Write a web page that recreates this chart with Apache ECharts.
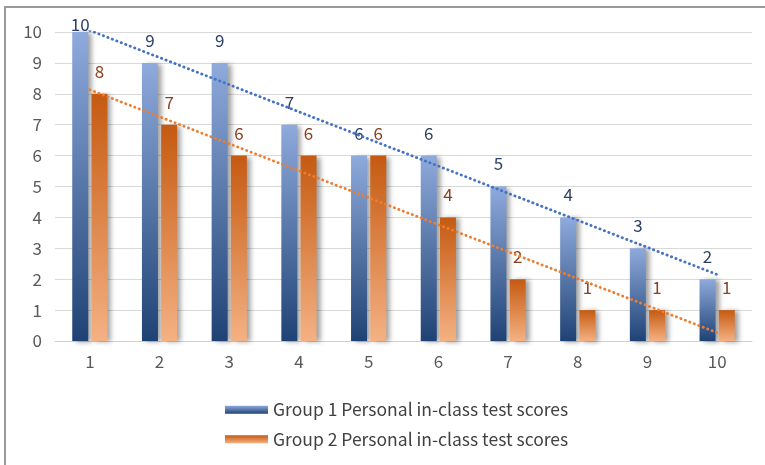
<!DOCTYPE html>
<html>
<head>
<meta charset="utf-8">
<script src="https://cdn.jsdelivr.net/npm/echarts@6/dist/echarts.min.js"></script>
<style>
html,body{margin:0;padding:0;background:#fff;}
#chart{width:765px;height:465px;}
</style>
</head>
<body>
<div id="chart"></div>
<script>
const categories = ['1','2','3','4','5','6','7','8','9','10'];
const group1 = [10, 9, 9, 7, 6, 6, 5, 4, 3, 2];
const group2 = [8, 7, 6, 6, 6, 4, 2, 1, 1, 1];
// trendline end values (at category 1 and category 10)
const trend1 = [10.05, null, null, null, null, null, null, null, null, 2.15];
const trend2 = [8.13, null, null, null, null, null, null, null, null, 0.27];
const seriesNames = ['Group 1 Personal in-class test scores', 'Group 2 Personal in-class test scores'];
const yTicks = { min: 0, max: 10, interval: 1 };

const FONT = '"Noto Sans CJK SC", "Noto Sans", sans-serif';
const FS = 17;

function grad(top, bottom) {
  return new echarts.graphic.LinearGradient(0, 0, 0, 1, [
    { offset: 0, color: top },
    { offset: 1, color: bottom }
  ]);
}

function barData(values) {
  return values.map(v => v >= yTicks.max
    ? { value: v, label: { distance: -1 } }
    : v);
}

const shadow = { shadowColor: 'rgba(0,0,0,0.38)', shadowBlur: 5, shadowOffsetX: 4, shadowOffsetY: 1 };

const chart = echarts.init(document.getElementById('chart'), null, { renderer: 'canvas' });
chart.setOption({
  animation: false,
  backgroundColor: '#fff',
  textStyle: { fontFamily: FONT },
  graphic: [{
    type: 'rect',
    shape: { x: 5, y: 7, width: 800, height: 500 },
    style: { fill: 'none', stroke: '#9a9a9a', lineWidth: 2 },
    silent: true
  }],
  grid: { left: 55, right: 13, top: 32, bottom: 124, containLabel: false },
  legend: {
    orient: 'vertical',
    left: 220,
    top: 396,
    icon: 'rect',
    itemWidth: 43,
    itemHeight: 8,
    itemGap: 12,
    data: seriesNames,
    textStyle: { fontFamily: FONT, fontSize: 17.5, color: '#404040' }
  },
  xAxis: {
    type: 'category',
    data: categories,
    axisLine: { lineStyle: { color: '#d0d0d0', width: 1 } },
    axisTick: { show: false },
    axisLabel: { fontFamily: FONT, fontSize: FS, color: '#595959', margin: 12 }
  },
  yAxis: {
    type: 'value',
    min: yTicks.min,
    max: yTicks.max,
    interval: yTicks.interval,
    axisLine: { show: false },
    axisTick: { show: false },
    splitLine: { lineStyle: { color: '#d9d9d9', width: 1 } },
    axisLabel: { fontFamily: FONT, fontSize: FS, color: '#595959', margin: 13 }
  },
  series: [
    {
      name: seriesNames[0],
      type: 'bar',
      data: barData(group1),
      barWidth: 16,
      barGap: '20%',
      itemStyle: Object.assign({ color: grad('#8faadc', '#1f4274') }, shadow),
      label: { show: true, position: 'top', distance: 14, fontFamily: FONT, fontSize: FS, color: '#2c3f66' },
      z: 2
    },
    {
      name: seriesNames[1],
      type: 'bar',
      data: barData(group2),
      barWidth: 16,
      itemStyle: Object.assign({ color: grad('#c55a11', '#f4b183') }, shadow),
      label: { show: true, position: 'top', distance: 14, fontFamily: FONT, fontSize: FS, color: '#8a4020' },
      z: 2
    },
    {
      name: 'trend1',
      type: 'line',
      data: trend1,
      connectNulls: true,
      symbol: 'none',
      lineStyle: { color: '#4472c4', width: 2.8, type: [0.3, 4.5], cap: 'round' },
      z: 5
    },
    {
      name: 'trend2',
      type: 'line',
      data: trend2,
      connectNulls: true,
      symbol: 'none',
      lineStyle: { color: '#ed7d31', width: 2.8, type: [0.3, 4.5], cap: 'round' },
      z: 5
    }
  ]
});
</script>
</body>
</html>
